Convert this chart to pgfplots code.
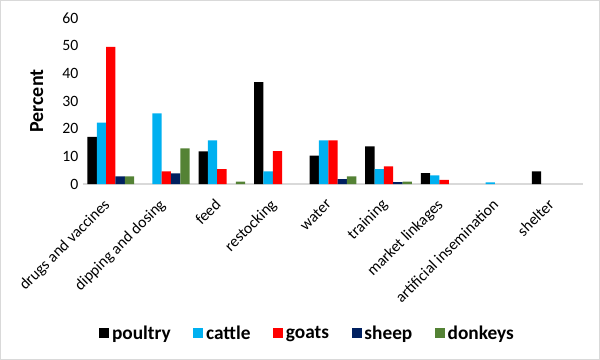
\documentclass[border=0pt]{standalone}
\usepackage{fontspec}
\setmainfont{Carlito}
\usepackage{pgfplots}
\pgfplotsset{compat=1.18}
\definecolor{cattle}{HTML}{00B0F0}
\definecolor{goats}{HTML}{FF0000}
\definecolor{sheep}{HTML}{002060}
\definecolor{donkeys}{HTML}{548235}
\definecolor{frame}{HTML}{D9D9D9}
\begin{document}
\begin{tikzpicture}
\useasboundingbox (-62.25pt,-132pt) rectangle (387.75pt,138pt);
\draw[frame] (-61.9pt,-131.6pt) rectangle (387.4pt,137.6pt);
\begin{axis}[
  at={(0,0)}, anchor=south west,
  scale only axis, width=375pt, height=124.5pt,
  ybar=0pt, bar width=7pt,
  xmin=-0.5, xmax=8.5, ymin=0, ymax=60,
  ytick={0,10,...,60},
  xtick={0,...,8},
  xticklabels={drugs and vaccines,dipping and dosing,feed,restocking,water,training,market linkages,artificial insemination,shelter},
  xticklabel style={rotate=45, anchor=north east, inner sep=1pt, yshift=-2pt, xshift=-10.5pt, font=\fontsize{11.8}{13}\selectfont},
  yticklabel style={font=\fontsize{11.8}{13}\selectfont},
  /pgf/number format/assume math mode=true,
  axis x line*=bottom, axis y line*=left,
  x axis line style={draw=frame, line width=0.8pt},
  y axis line style={draw=none},
  major tick length=0pt,
  ylabel={\textbf{Percent}},
  ylabel style={font=\fontsize{15}{17}\selectfont, at={(axis description cs:-0.07,0.5)}, anchor=south},
  legend columns=-1,
  legend style={at={(0.45,-0.90)}, anchor=center, draw=none, font=\bfseries\fontsize{14.5}{16}\selectfont,
    /tikz/every even column/.append style={column sep=15pt}},
  legend image code/.code={\fill[#1] (0pt,-3.7pt) rectangle (7.5pt,3.7pt);},
  every axis plot/.append style={draw=none},
]
\addplot[fill=black] coordinates {(0,17.0) (2,11.8) (3,36.8) (4,10.3) (5,13.6) (6,3.9) (8,4.6)};
\addplot[fill=cattle] coordinates {(0,22.2) (1,25.5) (2,15.8) (3,4.6) (4,15.8) (5,5.4) (6,3.1) (7,0.6)};
\addplot[fill=goats] coordinates {(0,49.6) (1,4.6) (2,5.4) (3,11.9) (4,15.8) (5,6.4) (6,1.5)};
\addplot[fill=sheep] coordinates {(0,2.8) (1,3.8) (4,1.8) (5,0.7)};
\addplot[fill=donkeys] coordinates {(0,2.8) (1,12.9) (2,0.9) (4,2.8) (5,0.9)};
\legend{poultry,cattle,goats,sheep,donkeys}
\end{axis}
\end{tikzpicture}
\end{document}
